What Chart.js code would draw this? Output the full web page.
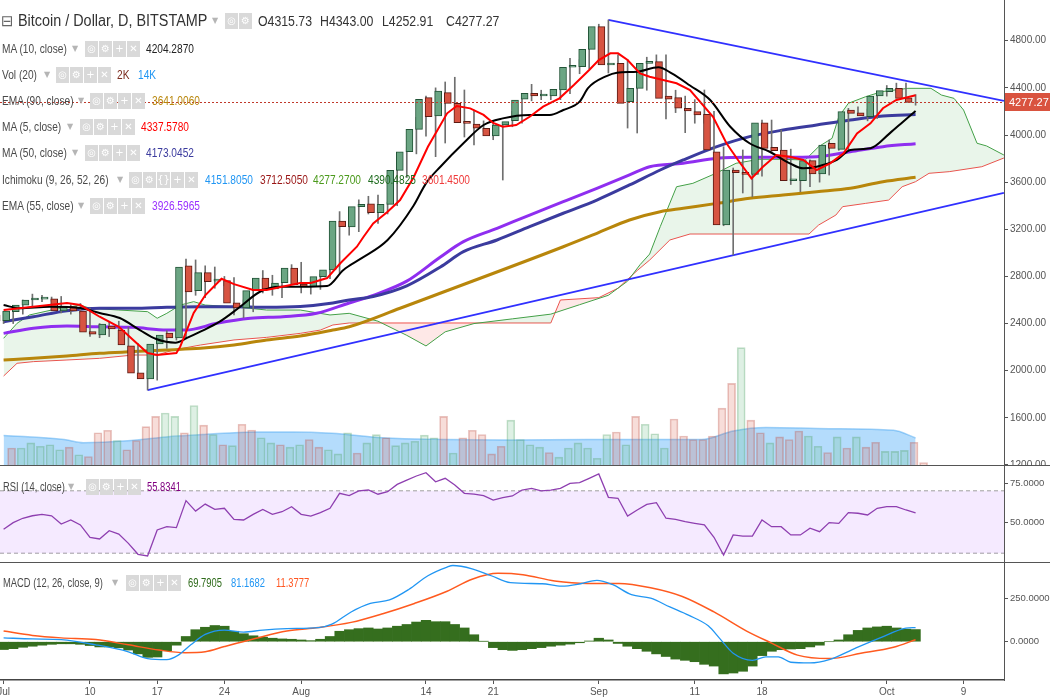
<!DOCTYPE html>
<html><head><meta charset="utf-8">
<script src="https://cdn.jsdelivr.net/npm/chart.js@4.4.1/dist/chart.umd.min.js"></script>
<style>
body{margin:0;background:#fff;}
#wrap{position:relative;width:1050px;height:700px;overflow:hidden;font-family:'Liberation Sans',Arial,sans-serif;color:#4a4a4a;}
canvas{position:absolute;left:0;}
.t{position:absolute;white-space:nowrap;font-size:13px;line-height:16px;height:16px;transform-origin:0 50%;transform:scaleX(0.78);}
.dd{position:absolute;color:#b5b5b5;font-size:8px;line-height:16px;font-family:'DejaVu Sans',sans-serif;}
.ic{position:absolute;width:13px;height:16px;background:#d9d9d9;color:#fff;text-align:center;font-size:10px;line-height:16px;font-family:'DejaVu Sans',sans-serif;}
.sep{position:absolute;left:0;width:1050px;height:1px;background:#555;}
</style></head>
<body><div id="wrap">
<canvas id="cMain" width="1050" height="466" style="top:0"></canvas>
<canvas id="cRsi" width="1050" height="96" style="top:466px"></canvas>
<canvas id="cMacd" width="1050" height="137" style="top:563px"></canvas>
<div class="sep" style="top:465px"></div>
<div class="sep" style="top:562px"></div>
<div id="legend"></div>
</div>
<script>
// ---------- DATA ----------
const tickDays   = [0, 9, 16, 23, 31, 44, 51, 62, 72, 79, 92, 100];
const tickLabels = ['Jul','10','17','24','Aug','14','21','Sep','11','18','Oct','9'];
const priceTicks = [1200,1600,2000,2400,2800,3200,3600,4000,4400,4800];
const rsiTicks   = [50, 75];
const macdTicks  = [0, 250];

const opens = [2473,2424,2500,2557,2600,2608,2610,2507,2545,2507, 2331,2303,2379,2345,2212,1983,1930,2227,2320,2278,
  2889,2679,2832,2760,2764,2577,2532,2679,2786,2693, 2747,2871,2736,2713,2798,2855,3270,3220,3392,3415,
  3341,3412,3700,3858,4048,4317,4161,4359,4269,4104, 4093,4057,3992,4085,4121,4305,4354,4331,4331,4382,
  4575,4580,4727,4919,4594,4608,4283,4396,4608,4622, 4331,4317,4227,4198,4176,3858,3236,3703,3680,3666,
  4104,3895,3873,3612,3612,3782,3669,3929,3878,4212, 4189,4155,4331,4367,4396,4315.73];
const highs = [2500,2530,2600,2650,2640,2625,2630,2560,2570,2530, 2400,2420,2420,2370,2230,2000,2240,2340,2360,2948,
  2940,2890,2880,2800,2790,2600,2700,2850,2810,2770, 2900,2920,2760,2820,2870,3350,3290,3450,3480,3490,
  3430,3720,3900,4150,4330,4400,4450,4490,4382,4212, 4120,4100,4100,4200,4350,4430,4380,4380,4450,4650,
  4640,4790,4940,4976,4680,4640,4500,4660,4680,4680, 4380,4330,4300,4382,4200,3900,3720,3873,3788,4127,
  4127,4042,3880,3762,3790,3800,3958,3940,4226,4240, 4220,4360,4420,4440,4440,4343];
const lows = [2400,2400,2480,2540,2585,2590,2490,2480,2490,2290, 2280,2290,2340,2170,1960,1836,1920,2190,2260,2270,
  2640,2620,2700,2720,2473,2450,2500,2660,2640,2620, 2740,2660,2650,2690,2780,2830,3150,3180,3330,3250,
  3330,3400,3640,3840,3990,3816,3932,4186,3983,3915, 4030,3960,3618,4070,4100,4290,4300,4300,4300,4350,
  4520,4560,4700,4526,4382,4059,4017,4380,4580,4136, 4190,4020,4100,4100,3731,3230,2982,3508,3476,3650,
  3860,3788,3580,3519,3561,3600,3660,3870,3870,4170, 4120,4140,4330,4360,4280,4252.91];
const closes = [2422,2507,2557,2600,2608,2612,2507,2549,2507,2328, 2311,2396,2354,2218,1980,1930,2227,2303,2278,2880,
  2668,2832,2755,2772,2574,2532,2679,2786,2693,2744, 2871,2730,2713,2798,2855,3270,3222,3392,3412,3341,
  3412,3700,3858,4048,4303,4155,4373,4269,4104,4098, 4057,3992,4085,4113,4297,4354,4331,4339,4388,4575,
  4580,4727,4919,4594,4608,4269,4396,4608,4622,4311, 4303,4227,4204,4170,3873,3236,3703,3680,3666,4104,
  3887,3867,3612,3618,3782,3669,3915,3887,4198,4184, 4161,4331,4376,4396,4311,4277.27];
const volumes = [9.3,9.3,12,10.2,11,8.4,9.8,5.8,4.9,17.2, 18.5,13.2,8.4,13.2,20.4,25.7,27.4,25.7,17.2,31.3,
  21.1,16.3,11,10.5,21.6,18.6,14.6,12,11,9.8, 11,13.7,9.8,8.4,6.3,17.2,6.7,12,16.2,14.6,
  10.5,12,12.8,16,14.6,25.7,6.7,14.6,18.5,16.3, 6.3,10.2,23.7,13.7,11,9.8,7,4.6,9.3,12,
  9.3,4,16.3,17.6,11,25.7,21.6,16.7,9.3,24.3, 15.5,13.7,13.7,15.5,29.9,42.7,61.2,23.7,17.2,12,
  15.1,13.7,18.1,15.5,10.2,7,15.1,9.3,15.1,9.8, 12.3,7.6,7.6,8.1,12.3,1.8];
const volMaDays = [0,6.3,8.3,12.9,16.9,20.9,26.2,30.2,34.2,39.5,46.1,52.8,60.8,66.1,72.7,76,79.4,86,92.7,95];
const volMaVals = [15.8,13.7,12,13,15,16.3,17.6,17.6,16.9,14.6,13.7,13.4,13.7,13.7,13.7,18.1,19.9,19.3,18.5,14.5];

const ma5Days = [0,6.6,8,10,12,13.5,15,16,18,18.4,19.8,21,22.7,24,26,27.4,29,30.9,32,33.7,35.1,36.8,37.5,38.5,40,41.3,42.7,44.2,46.2,47.2,48.6,50,51,52,53.4,54.8,56.2,57.9,59.4,61,62,63.2,64,65,66.3,67.3,68.7,70.1,71.5,73.9,75.3,76.5,77.9,79.1,80.5,81.9,83.3,84.7,86.1,87.5,88.9,90.3,91.6,93,95];
const ma5Vals = [2515,2574,2557,2458,2373,2260,2150,2133,2150,2204,2490,2640,2780,2735,2685,2685,2713,2744,2744,2786,2914,3052,3137,3250,3349,3448,3640,3900,4184,4246,4226,4170,4102,4070,4085,4155,4240,4311,4424,4552,4636,4693,4693,4636,4523,4495,4467,4439,4382,4155,3930,3788,3632,3731,3830,3816,3788,3703,3760,3845,4014,4099,4227,4297,4337.6];
const ma10Days = [0,1.7,4.8,8,10,12.1,14.2,15.9,17.9,19.1,20.5,22.5,24.6,26.7,28.8,30.9,33.7,35.4,37.3,40,42.7,44,45.5,47.9,50,52,54.8,56.9,58.3,60,60.9,62.8,63.9,66,68.2,69.6,71.5,73.6,75.7,77.7,79.8,81.9,83.3,84.7,86.8,88.2,90.3,92.3,93.7,95];
const ma10Vals = [2557,2530,2543,2532,2490,2447,2345,2269,2238,2278,2331,2416,2540,2670,2713,2713,2719,2855,2955,3109,3400,3590,3731,3930,4085,4141,4170,4170,4212,4283,4400,4500,4529,4537,4575,4523,4420,4297,4070,3930,3858,3760,3717,3731,3788,3873,3887,4014,4113,4204.3];
const ma50Days = [0,3.1,6.6,10,13.5,17,20.5,24,27.4,30.9,34.3,36,38.5,42,45.5,47.9,51.4,54.8,58.3,61.8,65.2,68.4,70.8,74.3,77.7,81.2,84.7,88.2,91.6,95];
const ma50Vals = [2416,2458,2509,2530,2530,2538,2543,2543,2538,2545,2575,2600,2630,2720,2880,3010,3109,3222,3336,3448,3576,3703,3788,3901,3986,4042,4085,4127,4161,4173];
const ema55Days = [0,3.1,6.6,10,13.5,17,19,22.2,25.7,29.1,32.6,36,38.5,42,45.5,47.9,51.4,54.8,58.3,61.8,65.2,67.3,70.8,74.3,77.7,81.2,84.7,88.2,91.6,95];
const ema55Vals = [2317,2360,2380,2373,2368,2345,2345,2402,2445,2458,2487,2575,2640,2760,2965,3095,3208,3321,3434,3548,3661,3731,3760,3802,3811,3811,3816,3858,3901,3926.6];
const ema90Days = [0,3.1,6.6,10,13.5,17,20.5,24,27.4,30.9,34.3,36,41.3,45.4,58.3,61.8,65.2,68.4,70.8,74.3,77.7,81.2,84.7,88.2,91.6,95];
const ema90Vals = [2091,2105,2125,2148,2162,2176,2190,2218,2261,2295,2345,2373,2530,2655,3052,3166,3279,3349,3378,3420,3463,3491,3519,3548,3604,3641];

const leadADays = [0,1.4,2.7,5,8,9,12,15,16,17,18.4,19.8,21,24,27.4,30.9,34,36,39,42,44,46,49,53,57,60,63,65,66.3,67.3,68.4,70.1,71.8,74.2,76.3,78.7,81.1,83.5,84.9,86.3,87,88,89.8,91.5,94.2,96.6,97.7,99,100,101.4,102.4,104.2];
const leadAVals = [2275,2402,2473,2515,2557,2530,2515,2501,2445,2487,2557,2586,2557,2543,2515,2515,2473,2487,2420,2300,2210,2330,2400,2440,2480,2560,2640,2760,2900,2990,3222,3561,3590,3675,3760,3794,3794,3788,3901,3972,4155,4269,4325,4368,4396,4396,4339,4311,4212,3930,3907,3830];
const leadBDays = [0,1.4,3.1,6.6,10,13.5,16,17.7,20.5,24,27.4,30.9,33,34.3,36,45,57,58,62,64,66,67.3,69.4,71.5,83.9,84.9,86.7,87.4,89.8,92.2,93.6,95,96.4,98.5,101.9,104.2];
const leadBVals = [1955,2063,2077,2091,2105,2133,2133,2176,2218,2261,2283,2317,2345,2388,2405,2405,2405,2600,2620,2700,2850,2939,3109,3160,3160,3236,3321,3392,3420,3448,3561,3604,3675,3689,3731,3805];

const trendLowDays = [15, 104.2],  trendLowVals = [1836, 3510];
const trendHighDays = [63, 104.2], trendHighVals = [4976, 4290];
const lastClose = 4277.27;

const rsiVals = [45.3,49.6,52.4,54,54.9,54,48.7,51.3,48.1,40.2, 39.1,44.4,42.3,36.3,29.3,28.2,44.9,47,46.4,63.7,
  57,61.5,58.1,58.8,51.7,51.3,54.9,58.1,54.9,56.6, 59.8,54.9,53.8,56,58.8,68.4,66.9,69.9,70.5,67.8,
  69.4,74.1,76.9,79.5,81.6,75.8,78,73.7,68.4,67.9, 66.9,64.1,65.6,66.7,70.5,71.6,69.9,70.5,71.6,74.8,
  75.2,78,80.8,65.8,65.2,53.8,57.7,61.3,62.4,52.4, 51.7,50.2,49.1,48.1,40.2,28.8,41.7,41,41,51.3,
  47,47,41.7,41.7,46,43.8,49.6,49.1,56,55.6, 54.5,58.8,59.8,59.8,57.7,55.83];
const rsiBands = [70, 30];

const macdDays = [0,3,6,9.6,13,15,17,18.2,19.5,21,23,25,27,29.5,32.8,34.2,36.2,38.2,40.2,42.2,44.2,46.2,46.8,48.8,50.8,52.8,56.1,58.1,60.1,61.8,63.4,65.4,67.4,69.4,71.4,73.4,74.7,76,78,79.4,80.7,82,84,86,88.7,91.3,94,95];
const macdVals = [22,16,12,-18,-58,-97,-103,-77,-18,42,67,55,67,75,81,101,171,220,240,300,379,429,438,419,379,339,333,319,333,353,329,270,250,200,151,91,12,-66,-107,-87,-87,-118,-122,-103,-38,22,78,81.17];
const signalDays = [0,3,6,9.6,13,16.2,18.9,21,23,26.2,29.5,32.8,36.2,39.5,42.8,46.2,48.8,51.5,54.1,57.4,60.8,64.1,67.4,70.7,74,77.4,80,82.7,86,89.3,92.7,95];
const signalVals = [61,36,22,12,-18,-48,-63,-58,-28,18,61,81,111,161,220,290,359,393,385,349,335,335,310,260,171,61,-8,-77,-97,-67,-32,11.38];
const histVals = [-45,-40,-32,-26,-20,-15,-12,-12,-15,-22, -30,-30,-35,-48,-70,-90,-88,-52,-20,30,
  69,83,93,89,60,46,34,26,20,16, 14,10,6,14,30,60,69,75,79,73,
  79,89,99,113,123,115,115,99,79,40, 2,-34,-46,-50,-46,-40,-34,-26,-20,-14,
  -6,4,20,10,-10,-26,-40,-55,-70,-85, -100,-107,-115,-130,-140,-185,-180,-170,-140,-80,
  -55,-46,-42,-40,-30,-20,0,10,40,65, 79,85,89,79,72,69.79];

// ---------- LAYOUT / STYLE ----------
const FONT = "'Liberation Sans', Arial, sans-serif";
Chart.defaults.font.family = FONT;
Chart.defaults.color = '#4d4d4d';
Chart.defaults.animation = false;
const X_MIN = -0.375, X_MAX = 104.21, AXIS_W = 46;
const UP = '#6ba583', UP_B = '#225437', DN = '#d75442', DN_B = '#5b1a13';

const pts = (xs, ys) => xs.map((x, i) => ({x, y: ys[i]}));
const lineDs = (data, color, w, order, extra) => Object.assign({type:'line', data, borderColor:color, borderWidth:w,
  pointRadius:0, fill:false, order, tension:0}, extra || {});

function yAxis(min, max, ticks, fmt, size) {
  return {position:'right', min, max,
    afterBuildTicks: s => { s.ticks = ticks.map(v => ({value:v})); },
    afterFit: s => { s.width = AXIS_W; s.paddingTop = 0; s.paddingBottom = 0; },
    ticks:{callback: v => fmt(v), font:{size}, color:'#555', padding:2},
    grid:{drawOnChartArea:false, drawTicks:true, tickLength:4, color:'#555', offset:false},
    border:{display:true, color:'#555', width:1}};
}
const hiddenX = {type:'linear', min:X_MIN, max:X_MAX, display:false, offset:false, grid:{offset:false}};
const baseOpts = {responsive:false, devicePixelRatio:1, events:[], animation:false,
  layout:{padding:0}, plugins:{legend:{display:false}, tooltip:{enabled:false}}};

const up = closes.map((c, i) => c >= opens[i]);

// ---------- MAIN PANEL ----------
const lastPricePlugin = {
  id:'lastPrice',
  afterDatasetsDraw(chart) {
    const {ctx, chartArea} = chart; const y = chart.scales.y.getPixelForValue(lastClose);
    ctx.save(); ctx.strokeStyle = '#c0392b'; ctx.lineWidth = 1; ctx.setLineDash([2,2]);
    ctx.beginPath(); ctx.moveTo(chartArea.left, Math.round(y)+0.5); ctx.lineTo(chartArea.right, Math.round(y)+0.5); ctx.stroke();
    ctx.restore();
  },
  afterDraw(chart) {
    const {ctx, chartArea} = chart; const y = chart.scales.y.getPixelForValue(lastClose);
    ctx.save(); ctx.fillStyle = '#d9533f';
    ctx.fillRect(chartArea.right + 1, Math.round(y) - 9, 1049 - chartArea.right, 18);
    ctx.fillStyle = '#fff'; ctx.font = "11px " + FONT; ctx.textBaseline = 'middle';
    ctx.fillText(lastClose.toFixed(2), chartArea.right + 5, Math.round(y) + 1);
    ctx.restore();
  }
};

const mainDatasets = [
  lineDs(pts(ma5Days, ma5Vals), '#ff0000', 2, 1),
  lineDs(pts(ma10Days, ma10Vals), '#000000', 2, 2, {cubicInterpolationMode:'monotone'}),
  {type:'bar', data: opens.map((o, i) => ({x:i, y:[o, closes[i]]})), order:3,
    backgroundColor: up.map(u => u ? UP : DN), borderColor: up.map(u => u ? UP_B : DN_B),
    borderWidth:1, borderSkipped:false, barThickness:7, minBarLength:2, yAxisID:'y'},
  {type:'bar', data: lows.map((l, i) => ({x:i, y:[l, highs[i]]})), order:4,
    backgroundColor:'#6f6f6f', borderWidth:0, barThickness:1, yAxisID:'y'},
  lineDs(pts(trendLowDays, trendLowVals), '#3030ff', 1.8, 5),
  lineDs(pts(trendHighDays, trendHighVals), '#3030ff', 1.8, 5),
  lineDs(pts(ma50Days, ma50Vals), '#3b3b9e', 3, 6, {cubicInterpolationMode:'monotone'}),
  lineDs(pts(ema55Days, ema55Vals), '#8f2ef0', 3, 7, {cubicInterpolationMode:'monotone'}),
  lineDs(pts(ema90Days, ema90Vals), '#b8860b', 3, 8, {cubicInterpolationMode:'monotone'}),
  {type:'bar', data: volumes.map((v, i) => ({x:i, y:v})), order:9, yAxisID:'yv',
    backgroundColor: up.map(u => u ? 'rgba(107,185,131,0.22)' : 'rgba(215,84,66,0.2)'),
    borderColor: up.map(u => u ? 'rgba(80,160,100,0.35)' : 'rgba(190,80,70,0.35)'), borderWidth:1, barThickness:8},
  lineDs(pts(volMaDays, volMaVals), 'rgba(60,160,240,0.45)', 1.5, 10,
    {yAxisID:'yv', fill:'start', backgroundColor:'rgba(40,155,245,0.35)', cubicInterpolationMode:'monotone'}),
  lineDs(pts(leadADays, leadAVals), '#43a047', 1, 11,
    {fill:{target:12, above:'rgba(76,175,80,0.12)', below:'rgba(244,67,54,0.12)'}}),
  lineDs(pts(leadBDays, leadBVals), '#ef5350', 1, 12)
];

new Chart(document.getElementById('cMain'), {
  type:'bar', data:{datasets: mainDatasets},
  options: Object.assign({}, baseOpts, {
    scales:{
      x: hiddenX,
      y: yAxis(1191.5, 5145.5, priceTicks, v => v.toFixed(2), 10),
      yv:{display:false, min:0, max:241}
    }}),
  plugins:[lastPricePlugin]
});

// ---------- RSI PANEL ----------
new Chart(document.getElementById('cRsi'), {
  type:'line',
  data:{datasets:[
    lineDs(pts(rsiVals.map((v, i) => i), rsiVals), '#8e3fb0', 1.3, 1),
    lineDs([{x:X_MIN, y:rsiBands[0]}, {x:X_MAX, y:rsiBands[0]}], '#9e9e9e', 1, 2,
      {borderDash:[4,3], fill:'+1', backgroundColor:'rgba(153,51,255,0.1)'}),
    lineDs([{x:X_MIN, y:rsiBands[1]}, {x:X_MAX, y:rsiBands[1]}], '#9e9e9e', 1, 3, {borderDash:[4,3]})
  ]},
  options: Object.assign({}, baseOpts, {
    scales:{ x: hiddenX, y: yAxis(24.36, 85.9, rsiTicks, v => v.toFixed(4), 9.5) }})
});

// ---------- MACD PANEL ----------
new Chart(document.getElementById('cMacd'), {
  type:'bar',
  data:{datasets:[
    lineDs(pts(macdDays, macdVals), '#2196f3', 1.3, 1, {cubicInterpolationMode:'monotone'}),
    lineDs(pts(signalDays, signalVals), '#ff5a1f', 1.5, 2, {cubicInterpolationMode:'monotone'}),
    {type:'bar', data: histVals.map((v, i) => ({x:i, y:v})), order:3, backgroundColor:'#356e1e',
      borderWidth:0, barPercentage:1, categoryPercentage:1}
  ]},
  options: Object.assign({}, baseOpts, {
    scales:{
      x:{type:'linear', min:X_MIN, max:X_MAX, offset:false, position:'bottom',
        afterBuildTicks: s => { s.ticks = tickDays.map(v => ({value:v})); },
        afterFit: s => { s.height = 20; s.paddingLeft = 0; s.paddingRight = 0; },
        ticks:{autoSkip:false, maxRotation:0, padding:2, font:{size:10}, color:'#555',
          callback: v => tickLabels[tickDays.indexOf(v)]},
        grid:{drawOnChartArea:false, drawTicks:true, tickLength:4, color:'#555', offset:false},
        border:{display:true, color:'#444', width:1.5}},
      y: yAxis(-220.1, 452.3, macdTicks, v => v.toFixed(4), 9.5)
    }})
});

// ---------- LEGENDS (HTML text) ----------
const legendRows = [
  [21, 'Bitcoin / Dollar, D, BITSTAMP', 18, 16, 212, 225, ['◎','⚙'],
    [['O4315.73',258,'#333'],['H4343.00',320,'#333'],['L4252.91',382,'#333'],['C4277.27',446,'#333']]],
  [49, 'MA (10, close)', 2, 13, 72, 85, ['◎','⚙','+','✕'], [['4204.2870',146,'#222']]],
  [75, 'Vol (20)', 2, 13, 44, 56, ['◎','⚙','+','✕'], [['2K',117,'#7b2a1c'],['14K',138,'#2196f3']]],
  [101, 'EMA (90, close)', 2, 13, 78, 90, ['◎','⚙','+','✕'], [['3641.0060',152,'#b8860b']]],
  [127, 'MA (5, close)', 2, 13, 67, 80, ['◎','⚙','+','✕'], [['4337.5780',141,'#ff0000']]],
  [153, 'MA (50, close)', 2, 13, 72, 85, ['◎','⚙','+','✕'], [['4173.0452',146,'#3b3b9e']]],
  [180, 'Ichimoku (9, 26, 52, 26)', 2, 13, 117, 129, ['◎','⚙','{}','+','✕'],
    [['4151.8050',205,'#2196f3'],['3712.5050',260,'#991515'],['4277.2700',313,'#4b9a1c'],['4390.4825',368,'#1e6b1e'],['3601.4500',422,'#ef3b3b']]],
  [206, 'EMA (55, close)', 2, 13, 78, 90, ['◎','⚙','+','✕'], [['3926.5965',152,'#9a30ff']]],
  [487, 'RSI (14, close)', 3, 12, 68, 86, ['◎','⚙','+','✕'], [['55.8341',147,'#800080']]],
  [583, 'MACD (12, 26, close, 9)', 3, 12, 112, 126, ['◎','⚙','+','✕'],
    [['69.7905',188,'#2f6b1b'],['81.1682',231,'#2196f3'],['11.3777',276,'#ff5722']]]
];
const lg = document.getElementById('legend');
legendRows.forEach((r, k) => {
  const [cy, label, lx, size, ddx, icx, icons, vals] = r;
  const top = cy - 8;
  let h = '';
  if (k === 0) h += `<span class="t" style="top:${top}px;left:1px;font-size:15px;color:#666;transform:none;font-family:'DejaVu Sans',sans-serif">⊟</span>`;
  h += `<span class="t" style="top:${top}px;left:${lx}px;font-size:${size}px;color:${k===0?'#333':'#4a4a4a'};${k===0?'transform:scaleX(0.9);':''}">${label}</span>`;
  h += `<span class="dd" style="top:${top}px;left:${ddx}px">▼</span>`;
  icons.forEach((g, j) => { h += `<span class="ic" style="top:${top}px;left:${icx + j*14}px">${g}</span>`; });
  vals.forEach(v => { h += `<span class="t" style="top:${top}px;left:${v[1]}px;color:${v[2]};font-size:${k===0?15:size}px;${k===0?'transform:scaleX(0.82);':''}">${v[0]}</span>`; });
  lg.insertAdjacentHTML('beforeend', h);
});
</script>
</body></html>
